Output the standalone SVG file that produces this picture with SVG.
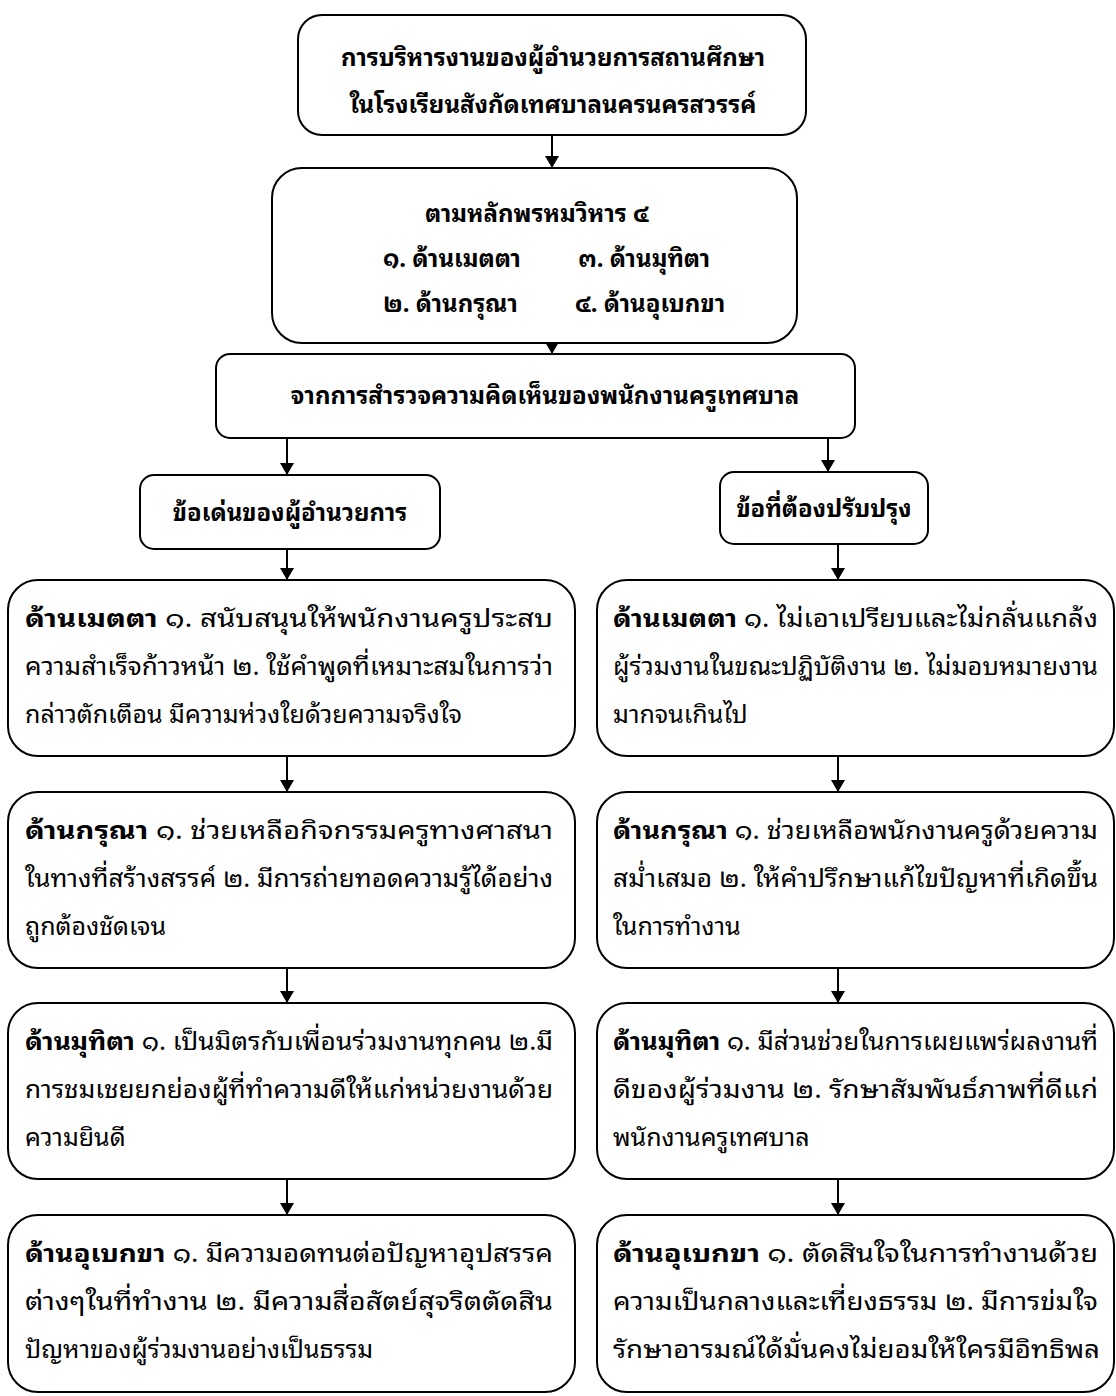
<svg xmlns="http://www.w3.org/2000/svg" width="1116" height="1396" viewBox="0 0 1116 1396">
<style>
.box{fill:#fff;stroke:#000;stroke-width:2}
.hd{font-family:"Noto Sans Thai Looped","Loma","Garuda","Tahoma","Noto Sans Thai","Noto Sans",sans-serif;font-size:24px;font-weight:bold;fill:#000;text-anchor:middle}
.bd{font-family:"Noto Sans Thai Looped","Loma","Garuda","Tahoma","Noto Sans Thai","Noto Sans",sans-serif;font-size:25px;fill:#000}
.bd .b{font-weight:bold}
.c{stroke:#000;stroke-width:2;fill:none;marker-end:url(#ah)}
</style>
<defs>
<marker id="ah" viewBox="0 0 12 14" refX="12" refY="7" markerWidth="12" markerHeight="14" markerUnits="userSpaceOnUse" orient="auto">
<path d="M0,0 L12,7 L0,14 Z" fill="#000"/>
</marker>
</defs>
<rect width="1116" height="1396" fill="#fff"/>
<g id="connectors">
<line class="c" x1="552" y1="135" x2="552" y2="168"/>
<line class="c" x1="552" y1="343" x2="552" y2="354"/>
<line class="c" x1="287" y1="438" x2="287" y2="475"/>
<line class="c" x1="828" y1="438" x2="828" y2="472"/>
<line class="c" x1="287" y1="549" x2="287" y2="580"/>
<line class="c" x1="838" y1="544" x2="838" y2="580"/>
<line class="c" x1="287" y1="756" x2="287" y2="792"/>
<line class="c" x1="287" y1="968" x2="287" y2="1003"/>
<line class="c" x1="287" y1="1179" x2="287" y2="1215"/>
<line class="c" x1="838" y1="756" x2="838" y2="792"/>
<line class="c" x1="838" y1="968" x2="838" y2="1003"/>
<line class="c" x1="838" y1="1179" x2="838" y2="1215"/>
</g>
<g id="n-title">
<rect class="box" x="298" y="15" width="508" height="120" rx="24"/>
<text class="hd" x="553" y="66">การบริหารงานของผู้อำนวยการสถานศึกษา</text>
<text class="hd" x="553" y="113">ในโรงเรียนสังกัดเทศบาลนครนครสวรรค์</text>
</g>
<g id="n-principles">
<rect class="box" x="272" y="168" width="525" height="175" rx="30"/>
<text class="hd" x="537" y="222">ตามหลักพรหมวิหาร ๔</text>
<text class="hd" x="383" y="267" style="text-anchor:start">๑. ด้านเมตตา</text>
<text class="hd" x="578" y="267" style="text-anchor:start">๓. ด้านมุทิตา</text>
<text class="hd" x="383" y="312" style="text-anchor:start">๒. ด้านกรุณา</text>
<text class="hd" x="575" y="312" style="text-anchor:start">๔. ด้านอุเบกขา</text>
</g>
<g id="n-survey">
<rect class="box" x="216" y="354" width="639" height="84" rx="14"/>
<text class="hd" x="545" y="404">จากการสำรวจความคิดเห็นของพนักงานครูเทศบาล</text>
</g>
<g id="n-strengths">
<rect class="box" x="140" y="475" width="300" height="74" rx="14"/>
<text class="hd" x="290" y="521">ข้อเด่นของผู้อำนวยการ</text>
</g>
<g id="n-improve">
<rect class="box" x="720" y="472" width="208" height="72" rx="14"/>
<text class="hd" x="824" y="517">ข้อที่ต้องปรับปรุง</text>
</g>
<g id="n-l1">
<rect class="box" x="8" y="580" width="567" height="176" rx="30"/>
<text class="bd" x="25" y="627" textLength="528" lengthAdjust="spacingAndGlyphs"><tspan class="b">ด้านเมตตา</tspan> ๑. สนับสนุนให้พนักงานครูประสบ</text>
<text class="bd" x="25" y="675" textLength="528" lengthAdjust="spacingAndGlyphs">ความสำเร็จก้าวหน้า ๒. ใช้คำพูดที่เหมาะสมในการว่า</text>
<text class="bd" x="25" y="723">กล่าวตักเตือน มีความห่วงใยด้วยความจริงใจ</text>
</g>
<g id="n-l2">
<rect class="box" x="8" y="792" width="567" height="176" rx="30"/>
<text class="bd" x="25" y="839" textLength="528" lengthAdjust="spacingAndGlyphs"><tspan class="b">ด้านกรุณา</tspan> ๑. ช่วยเหลือกิจกรรมครูทางศาสนา</text>
<text class="bd" x="25" y="887" textLength="528" lengthAdjust="spacingAndGlyphs">ในทางที่สร้างสรรค์ ๒. มีการถ่ายทอดความรู้ได้อย่าง</text>
<text class="bd" x="25" y="935">ถูกต้องชัดเจน</text>
</g>
<g id="n-l3">
<rect class="box" x="8" y="1003" width="567" height="176" rx="30"/>
<text class="bd" x="25" y="1050" textLength="528" lengthAdjust="spacingAndGlyphs"><tspan class="b">ด้านมุทิตา</tspan> ๑. เป็นมิตรกับเพื่อนร่วมงานทุกคน ๒.มี</text>
<text class="bd" x="25" y="1098" textLength="528" lengthAdjust="spacingAndGlyphs">การชมเชยยกย่องผู้ที่ทำความดีให้แก่หน่วยงานด้วย</text>
<text class="bd" x="25" y="1146">ความยินดี</text>
</g>
<g id="n-l4">
<rect class="box" x="8" y="1215" width="567" height="177" rx="30"/>
<text class="bd" x="25" y="1262" textLength="528" lengthAdjust="spacingAndGlyphs"><tspan class="b">ด้านอุเบกขา</tspan> ๑. มีความอดทนต่อปัญหาอุปสรรค</text>
<text class="bd" x="25" y="1310" textLength="528" lengthAdjust="spacingAndGlyphs">ต่างๆในที่ทำงาน ๒. มีความสื่อสัตย์สุจริตตัดสิน</text>
<text class="bd" x="25" y="1358">ปัญหาของผู้ร่วมงานอย่างเป็นธรรม</text>
</g>
<g id="n-r1">
<rect class="box" x="597" y="580" width="517" height="176" rx="30"/>
<text class="bd" x="613" y="627" textLength="485" lengthAdjust="spacingAndGlyphs"><tspan class="b">ด้านเมตตา</tspan> ๑. ไม่เอาเปรียบและไม่กลั่นแกล้ง</text>
<text class="bd" x="613" y="675" textLength="485" lengthAdjust="spacingAndGlyphs">ผู้ร่วมงานในขณะปฏิบัติงาน ๒. ไม่มอบหมายงาน</text>
<text class="bd" x="613" y="723">มากจนเกินไป</text>
</g>
<g id="n-r2">
<rect class="box" x="597" y="792" width="517" height="176" rx="30"/>
<text class="bd" x="613" y="839" textLength="485" lengthAdjust="spacingAndGlyphs"><tspan class="b">ด้านกรุณา</tspan> ๑. ช่วยเหลือพนักงานครูด้วยความ</text>
<text class="bd" x="613" y="887" textLength="485" lengthAdjust="spacingAndGlyphs">สม่ำเสมอ ๒. ให้คำปรึกษาแก้ไขปัญหาที่เกิดขึ้น</text>
<text class="bd" x="613" y="935">ในการทำงาน</text>
</g>
<g id="n-r3">
<rect class="box" x="597" y="1003" width="517" height="176" rx="30"/>
<text class="bd" x="613" y="1050" textLength="485" lengthAdjust="spacingAndGlyphs"><tspan class="b">ด้านมุทิตา</tspan> ๑. มีส่วนช่วยในการเผยแพร่ผลงานที่</text>
<text class="bd" x="613" y="1098" textLength="485" lengthAdjust="spacingAndGlyphs">ดีของผู้ร่วมงาน ๒. รักษาสัมพันธ์ภาพที่ดีแก่</text>
<text class="bd" x="613" y="1146">พนักงานครูเทศบาล</text>
</g>
<g id="n-r4">
<rect class="box" x="597" y="1215" width="517" height="177" rx="30"/>
<text class="bd" x="613" y="1262" textLength="485" lengthAdjust="spacingAndGlyphs"><tspan class="b">ด้านอุเบกขา</tspan> ๑. ตัดสินใจในการทำงานด้วย</text>
<text class="bd" x="613" y="1310" textLength="485" lengthAdjust="spacingAndGlyphs">ความเป็นกลางและเที่ยงธรรม ๒. มีการข่มใจ</text>
<text class="bd" x="613" y="1358" textLength="487" lengthAdjust="spacingAndGlyphs">รักษาอารมณ์ได้มั่นคงไม่ยอมให้ใครมีอิทธิพล</text>
</g>
</svg>
